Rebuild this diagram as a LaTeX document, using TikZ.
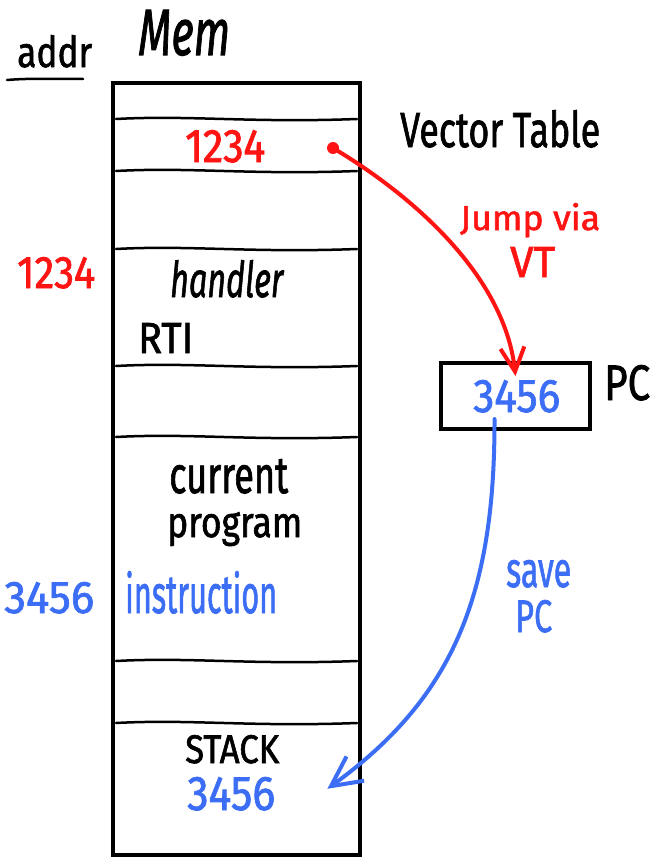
\documentclass[tikz,border=0pt]{standalone}
\usepackage{fontspec}
\newfontfamily\hwfont{Fira Sans}[FakeBold=1.6]
\usepackage{graphicx}
\usetikzlibrary{arrows.meta,calc}
\definecolor{hred}{RGB}{255,20,20}
\definecolor{hblue}{RGB}{60,110,245}
\newcommand\hwtxt[3]{\resizebox{#1pt}{#2pt}{#3}}
\begin{document}
\begin{tikzpicture}[x=1pt,y=-1pt,
  lbl/.style={inner sep=0pt, anchor=base west, font=\hwfont\fontsize{30}{36}\selectfont},
  divider/.style={line width=2.5pt, line cap=round},
  membox/.style={draw, line width=4.5pt, minimum width=247pt, minimum height=772pt, inner sep=0pt},
  regbox/.style={draw, line width=4pt, minimum width=149pt, minimum height=66pt, inner sep=0pt},
  redarrow/.style={draw=hred, line width=4pt, line cap=round, -{Straight Barb[length=24pt,width=24pt]}},
  bluearrow/.style={draw=hblue, line width=4pt, line cap=round, -{Straight Barb[length=30pt,width=30pt]}}]
\useasboundingbox (0,0) rectangle (652,859);

% headings
\node[lbl] (addr) at (17,67) {\hwtxt{75}{32}{addr}};
\draw[divider] (7,80) .. controls (30,78) and (60,79) .. (83,79);
\node[lbl] (mem) at (138,55) {\hwtxt{92}{45}{\itshape Mem}};

% memory column
\node[membox] (memcol) at (236.5,469) {};
\foreach \y in {119,171,249,366,437,661,723}{
  \draw[divider] (116,\y) .. controls (190,\y-4) and (250,\y+4) .. (357,\y);
}

% vector table
\node[lbl,text=hred] (vt1234) at (185,162) {\hwtxt{80}{32}{1234}};
\node[lbl] (vtlabel) at (400,147) {\hwtxt{200}{37}{Vector Table}};
\node[lbl,text=hred] (jump) at (460,230) {\hwtxt{140}{27}{Jump via}};
\node[lbl,text=hred] (vt) at (510,277) {\hwtxt{45}{30}{VT}};

% handler
\node[lbl,text=hred] (addr1234) at (17,288) {\hwtxt{78}{31}{1234}};
\node[lbl] (handler) at (170,297) {\hwtxt{113}{37}{\itshape handler}};
\node[lbl] (rti) at (138,353) {\hwtxt{55}{30}{RTI}};

% PC register
\node[regbox] (pcbox) at (515.5,396) {};
\node[lbl,text=hblue] (pcval) at (473,412) {\hwtxt{87}{32}{3456}};
\node[lbl] (pclabel) at (604,400) {\hwtxt{46}{35}{PC}};

% current program
\node[lbl] (current) at (169,493) {\hwtxt{119}{34}{current}};
\node[lbl] (program) at (167,537) {\hwtxt{135}{25}{program}};
\node[lbl,text=hblue] (addr3456) at (4,613) {\hwtxt{90}{31}{3456}};
\node[lbl,text=hblue] (instr) at (125,613) {\hwtxt{152}{42}{instruction}};
\node[lbl,text=hblue] (save) at (506,587) {\hwtxt{65}{27}{save}};
\node[lbl,text=hblue] (savepc) at (515,632) {\hwtxt{37}{32}{PC}};

% stack
\node[lbl] (stack) at (185,763) {\hwtxt{94}{28}{STACK}};
\node[lbl,text=hblue] (stackval) at (187,810) {\hwtxt{88}{33}{3456}};

% connectors
\node[circle, fill=hred, minimum size=12pt, inner sep=0pt] (reddot) at (333,148) {};
\draw[redarrow] (reddot.center) .. controls (420,200) and (505,280) .. ($(pcbox.north)+(0,15)$);
\draw[bluearrow] ($(pcbox.south)+(-21,-12)$) .. controls (495,600) and (450,700) .. ($(stackval.east)+(52,-5)$);
\end{tikzpicture}
\end{document}
